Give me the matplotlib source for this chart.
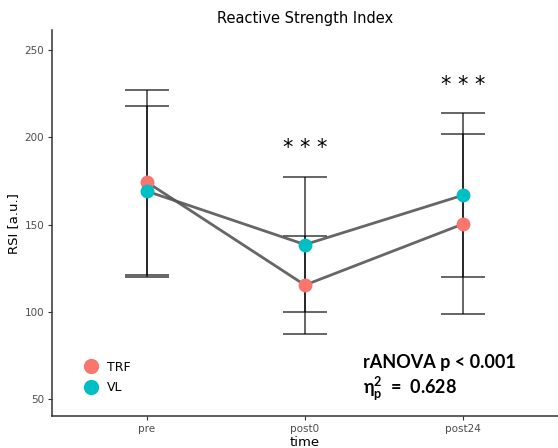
import numpy as np
import matplotlib.pyplot as plt

plt.rcParams["mathtext.fontset"] = "custom"
plt.rcParams["mathtext.rm"] = "Lato:bold"
plt.rcParams["mathtext.it"] = "Lato:bold"
plt.rcParams["mathtext.bf"] = "Lato:bold"

times = ["pre", "post0", "post24"]
groups = ["TRF", "VL"]
colors = {"TRF": "#F8766D", "VL": "#00BFC4"}
means = {"TRF": [174.4, 115.4, 150.4], "VL": [169.2, 138.6, 166.9]}
sds = {"TRF": [53.0, 28.2, 51.3], "VL": [49.0, 38.6, 46.8]}
stars = ["", "* * *", "* * *"]
star_y = [None, 194, 230]

fig = plt.figure(figsize=(5.58, 4.48), dpi=100)
ax = fig.add_axes([0.093, 0.071, 0.907, 0.862])
x = np.arange(len(times))

# error bars first, then connecting lines, then the points on top
for g in groups:
    ax.errorbar(x, means[g], yerr=sds[g], fmt="none", ecolor="black",
                elinewidth=1.2, capsize=15.5, capthick=1.2, alpha=0.7, zorder=1)
for g in groups:
    ax.plot(x, means[g], color="#555555", lw=2, alpha=0.9, zorder=2)
for g in groups:
    ax.plot(x, means[g], "o", color=colors[g], ms=10, mec="none", zorder=3, label=g)

for xi, s, yv in zip(x, stars, star_y):
    if s:
        ax.text(xi, yv, s, ha="center", va="center", fontsize=15, color="black")

ax.text(1.37, 71, "rANOVA p < 0.001", fontsize=13, fontweight="bold",
        family="Lato", va="center", ha="left")
ax.text(1.37, 56, r"$\mathrm{\eta}_{p}^{2}$  =  0.628", fontsize=13,
        fontweight="bold", family="Lato", va="center", ha="left")

ax.set_xlim(-0.6, 2.6)
ax.set_ylim(40.3, 261.5)
ax.set_xticks(x)
ax.set_xticklabels(times)
ax.set_yticks([50, 100, 150, 200, 250])
ax.tick_params(colors="#333333", labelcolor="#4d4d4d", labelsize=7.5,
               length=3, width=0.8, pad=2.5)
for side in ["top", "right"]:
    ax.spines[side].set_visible(False)
for side in ["left", "bottom"]:
    ax.spines[side].set_color("#333333")
    ax.spines[side].set_linewidth(1.1)

ax.set_title("Reactive Strength Index", fontsize=10.5, pad=5)
ax.set_ylabel("RSI [a.u.]", fontsize=9.5)
ax.yaxis.set_label_coords(-0.062, 0.5)
ax.set_xlabel("time", fontsize=9.5, labelpad=1.5)

ax.legend(loc="lower left", bbox_to_anchor=(0.03, 0.028), frameon=False,
          fontsize=9, handletextpad=0.3, labelspacing=0.6, markerscale=1.1)

fig.savefig("out.png", dpi=100)
